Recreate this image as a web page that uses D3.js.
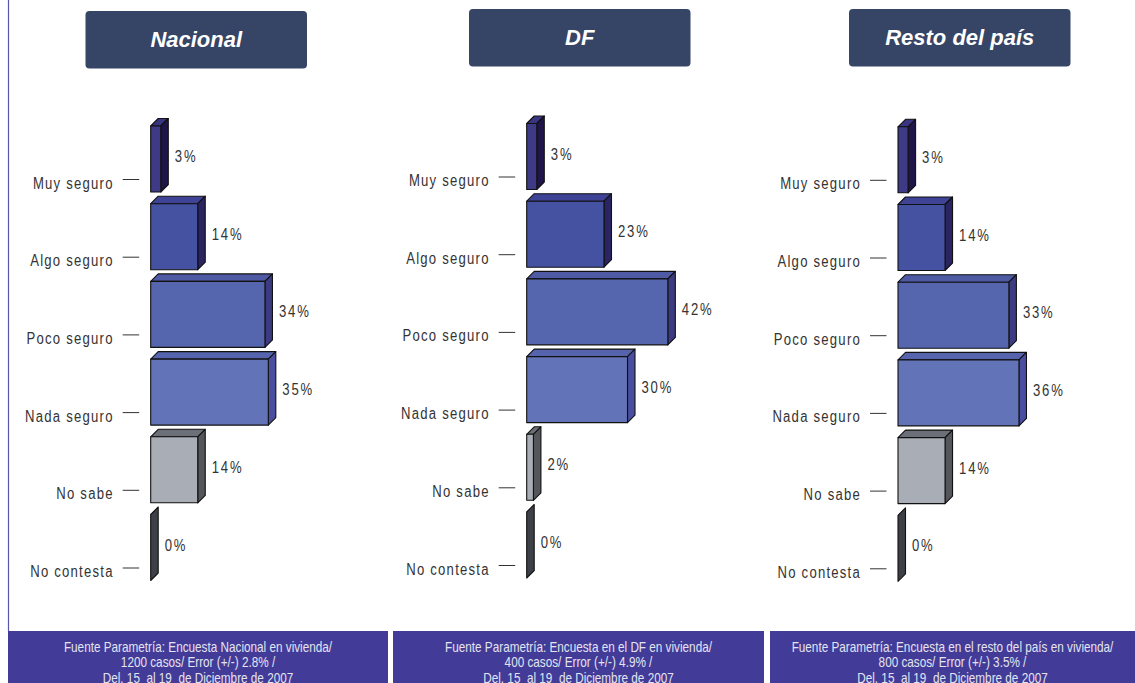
<!DOCTYPE html>
<html><head><meta charset="utf-8">
<script src="https://cdn.jsdelivr.net/npm/d3@7"></script>
<style>
html,body{margin:0;padding:0;background:#fff;}
svg{display:block;}
text{white-space:pre;}
</style></head>
<body>
<svg id="chart" width="1135" height="683"></svg>
<script>
const categories = ["Muy seguro","Algo seguro","Poco seguro","Nada seguro","No sabe","No contesta"];
const nacional = [3,14,34,35,14,0];
const df = [3,23,42,30,2,0];
const resto = [3,14,33,36,14,0];
const titles = ["Nacional","DF","Resto del país"];
const footerLines = [
  ["Fuente Parametría: Encuesta Nacional en vivienda/","1200 casos/ Error (+/-) 2.8% /","Del. 15  al 19  de Diciembre de 2007"],
  ["Fuente Parametría: Encuesta en el DF en vivienda/","400 casos/ Error (+/-) 4.9% /","Del. 15  al 19  de Diciembre de 2007"],
  ["Fuente Parametría: Encuesta en el resto del país en vivienda/","800 casos/ Error (+/-) 3.5% /","Del. 15  al 19  de Diciembre de 2007"]
];
const series = [nacional, df, resto];

// styling per category: front, top, side
const faceColors = [
  ["#3e3a85","#3a3580","#1f1548"],
  ["#4552a2","#3e4396","#2a2462"],
  ["#5565ae","#4f5aa5","#3c3a80"],
  ["#6373b8","#5564ad","#4a4ea0"],
  ["#a9adb5","#6c6f77","#54565c"],
  ["#44464d","#44464d","#3d4047"]
];
// layout
const panelLayout = [
  {barLeft:150.7, tick0:179, box:[85.5,11,221.5,57.5]},
  {barLeft:526.7, tick0:176.5, box:[469,9,221.5,57.5]},
  {barLeft:898, tick0:179.8, box:[849,9,221.5,57.5]}
];
const footerBoxes = [[8,388],[393,764],[770,1135]];
const step = 77.7, barH = 66, dx = 7.5, dy = 7.5;
const font = "'Liberation Sans',Arial,sans-serif";
const SX = 0.82;

const svg = d3.select("#chart");
const x = d3.scaleLinear().domain([0,100]).range([0,336]);

function narrowText(parent, tx, ty, str, size, spacing, anchor, fill, sx) {
  const s = sx || SX;
  return parent.append("text")
    .attr("transform",`translate(${tx},${ty}) scale(${s},1)`)
    .attr("text-anchor",anchor).attr("fill",fill)
    .attr("font-family",font).attr("font-size",size)
    .attr("letter-spacing",spacing).text(str);
}

// left border line
svg.append("line").attr("x1",8.5).attr("x2",8.5).attr("y1",0).attr("y2",631)
  .attr("stroke","#5b55a8").attr("stroke-width",1.2);

series.forEach((vals, p) => {
  const L = panelLayout[p];
  const g = svg.append("g");
  // title box
  g.append("rect").attr("x",L.box[0]).attr("y",L.box[1]).attr("width",L.box[2]).attr("height",L.box[3])
    .attr("rx",4).attr("fill","#364466");
  g.append("text").attr("x",L.box[0]+L.box[2]/2).attr("y",L.box[1]+35.5)
    .attr("text-anchor","middle").attr("fill","#fff")
    .attr("font-family",font).attr("font-weight","bold")
    .attr("font-style","italic").attr("font-size",22).text(titles[p]);

  const y = d3.scalePoint().domain(categories).range([L.tick0, L.tick0 + step*(categories.length-1)]);

  // axis
  const tickSize = 16.5, pad = 9;
  const axis = d3.axisLeft(y).tickSize(tickSize).tickPadding(pad);
  const ag = g.append("g").attr("transform",`translate(${L.barLeft-11.5},0)`).call(axis);
  ag.select(".domain").remove();
  ag.selectAll("line").attr("stroke","#333").attr("stroke-width",1);
  ag.selectAll("text").attr("dy",null).attr("x",-(tickSize+pad)/SX).attr("y",9)
    .attr("transform",`scale(${SX},1)`).attr("fill","#333")
    .attr("font-family",font).attr("font-size",16).attr("letter-spacing",1.5);

  // bars
  categories.forEach((c, i) => {
    const v = vals[i];
    const left = L.barLeft, right = L.barLeft + x(v);
    const bottom = y(c) + 13, top = bottom - barH;
    const [cf, ct, cs] = faceColors[i];
    const bg = g.append("g").attr("stroke","#111").attr("stroke-width",1.1).attr("stroke-linejoin","round");
    if (v > 0) {
      bg.append("polygon").attr("fill",ct)
        .attr("points",[[left,top],[left+dx,top-dy],[right+dx,top-dy],[right,top]].join(" "));
    }
    bg.append("polygon").attr("fill",cs)
      .attr("points",[[right,top],[right+dx,top-dy],[right+dx,bottom-dy],[right,bottom]].join(" "));
    if (v > 0) {
      bg.append("rect").attr("x",left).attr("y",top).attr("width",right-left).attr("height",barH).attr("fill",cf);
    }
    narrowText(g, right+dx+6.5, bottom-30, v + "%", 16, 2.2, "start", "#333");
  });

  // footer
  const fb = footerBoxes[p];
  svg.append("rect").attr("x",fb[0]).attr("y",631).attr("width",fb[1]-fb[0]).attr("height",52).attr("fill","#423b98");
  footerLines[p].forEach((t, k) => {
    narrowText(svg, (fb[0]+fb[1])/2, 651.5 + k*15.6, t, 14, 0, "middle", "#e4e4f0", 0.84);
  });
});
</script>
</body></html>
